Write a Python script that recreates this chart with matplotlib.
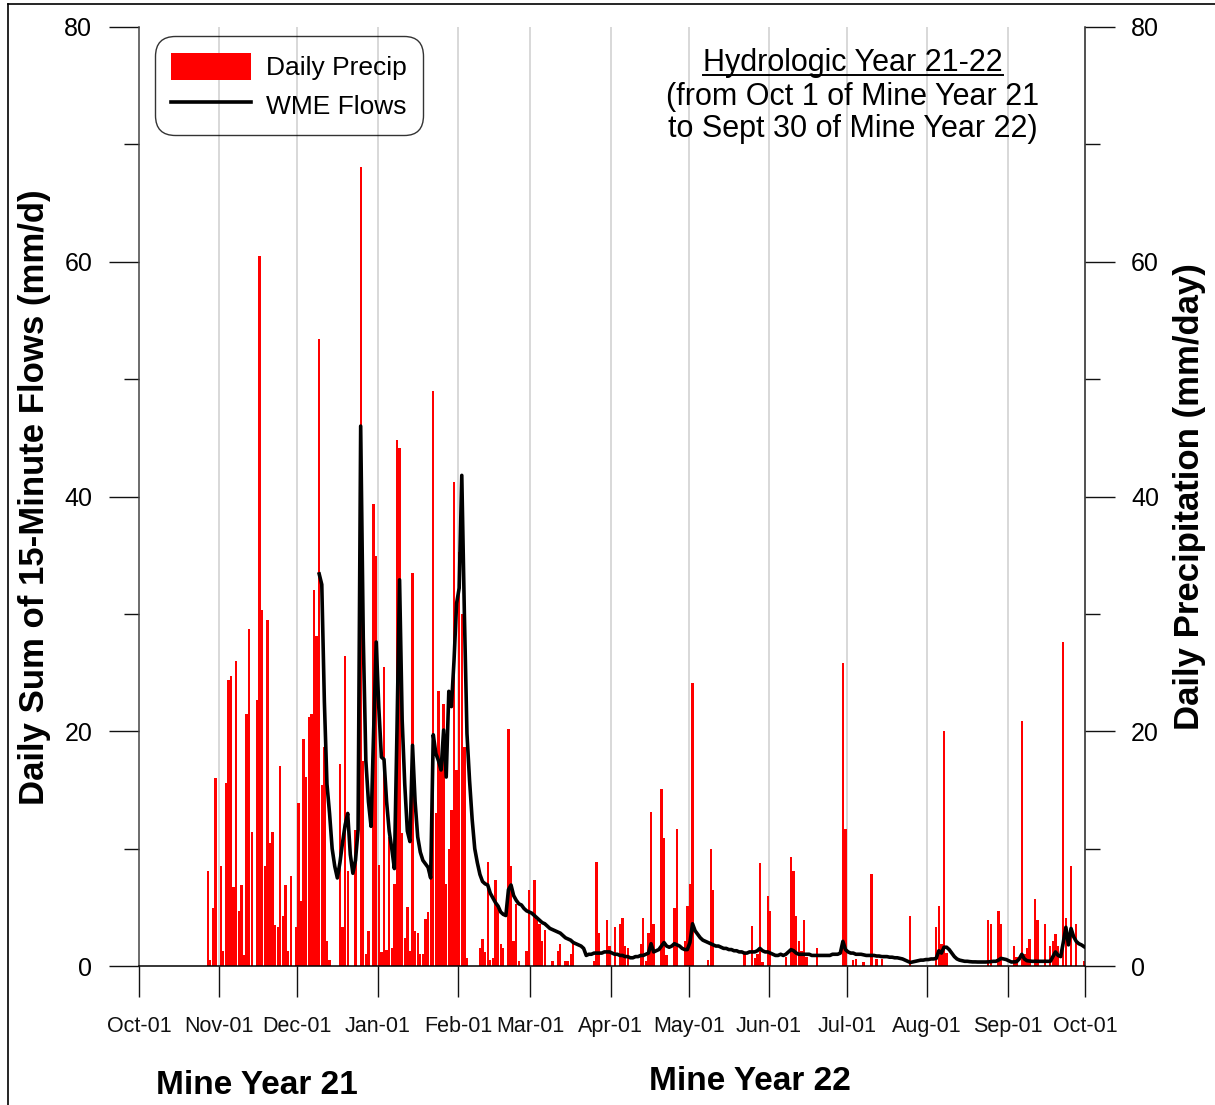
import matplotlib
matplotlib.use('Agg')
import matplotlib.pyplot as plt
from matplotlib.lines import Line2D
from matplotlib.patches import Patch
import numpy as np

plt.rcParams['font.family'] = ['Liberation Sans', 'DejaVu Sans']

# day index counted from Oct 1 of Mine Year 21
month_days = [0, 31, 61, 92, 123, 151, 182, 212, 243, 273, 304, 335, 365]
month_labels = ['Oct-01', 'Nov-01', 'Dec-01', 'Jan-01', 'Feb-01', 'Mar-01', 'Apr-01',
                'May-01', 'Jun-01', 'Jul-01', 'Aug-01', 'Sep-01', 'Oct-01']

# daily precipitation (mm/day), days without rain left out
precip_days = [26, 27, 28, 29, 31, 32, 33, 34, 35, 36, 37, 38, 39, 40, 41, 42, 43, 45, 46, 47,
               48, 49, 50, 51, 52, 53, 54, 55, 56, 57, 58, 60, 61, 62, 63, 64, 65, 66, 67, 68,
               69, 70, 71, 72, 73, 77, 78, 79, 80, 83, 85, 86, 87, 88, 90, 91, 92, 93, 94, 95,
               96, 97, 98, 99, 100, 101, 102, 103, 104, 105, 106, 107, 108, 109, 110, 111, 112, 113, 114, 115,
               116, 117, 118, 119, 120, 121, 122, 123, 124, 125, 126, 131, 132, 133, 134, 135, 136, 137, 138, 139,
               140, 142, 143, 144, 145, 146, 149, 150, 152, 153, 154, 155, 156, 159, 161, 162, 164, 165, 166, 167,
               175, 176, 177, 180, 181, 183, 185, 186, 187, 188, 193, 194, 195, 196, 197, 198, 201, 202, 203, 206,
               207, 210, 211, 212, 213, 219, 220, 221, 233, 236, 237, 238, 239, 240, 242, 243, 249, 251, 252, 253,
               254, 255, 256, 257, 261, 271, 272, 275, 276, 279, 282, 284, 286, 297, 307, 308, 309, 310, 311, 327,
               328, 331, 332, 337, 338, 340, 341, 342, 343, 345, 346, 349, 351, 352, 353, 354, 356, 357, 359, 361,
               364]
precip_mm = [8.1, 0.5, 4.9, 16.0, 8.5, 1.3, 15.6, 24.4, 24.7, 6.7, 26.0, 4.7, 6.9, 0.9, 21.5, 28.7, 11.4, 22.7, 60.5, 30.3,
             8.5, 29.5, 10.5, 11.4, 3.5, 3.3, 17.0, 4.3, 6.9, 1.3, 7.7, 3.3, 13.9, 5.5, 19.3, 16.1, 21.2, 21.5, 32.0, 28.1,
             53.4, 15.4, 18.7, 2.1, 0.5, 17.2, 3.3, 26.4, 8.1, 11.6, 68.1, 17.5, 1.0, 3.0, 39.4, 34.9, 8.6, 1.2, 25.5, 1.4,
             11.0, 1.5, 7.0, 44.8, 44.1, 11.3, 2.4, 5.0, 1.3, 33.5, 3.0, 2.8, 1.0, 1.0, 4.0, 4.6, 9.0, 49.0, 13.0, 23.4,
             17.0, 22.3, 7.0, 10.0, 13.3, 41.2, 16.7, 35.3, 30.0, 18.7, 0.7, 1.5, 2.3, 1.2, 8.9, 0.5, 0.7, 7.3, 4.9, 1.9,
             1.5, 20.2, 8.5, 2.1, 5.3, 0.4, 1.3, 6.5, 7.3, 3.9, 3.6, 2.1, 3.1, 0.4, 1.3, 1.9, 0.4, 0.4, 1.0, 2.1,
             0.4, 8.9, 2.8, 3.9, 1.7, 3.3, 3.6, 4.1, 1.7, 1.5, 1.9, 4.1, 0.4, 2.8, 13.1, 3.6, 15.1, 10.9, 0.9, 4.9,
             11.7, 2.1, 5.1, 7.0, 24.1, 0.5, 10.0, 6.5, 1.2, 3.4, 0.7, 1.0, 8.8, 0.3, 6.0, 4.7, 0.8, 9.3, 8.1, 4.3,
             2.1, 1.3, 3.9, 0.8, 1.5, 25.8, 11.7, 0.5, 0.6, 0.3, 7.8, 0.6, 0.6, 4.3, 3.3, 5.1, 1.9, 20.0, 1.1, 3.9,
             3.6, 4.7, 3.6, 1.7, 0.8, 20.9, 1.0, 1.5, 2.3, 5.7, 3.9, 3.6, 1.7, 2.1, 2.7, 1.7, 27.6, 4.1, 8.5, 3.6,
             0.4]

# daily sum of 15-minute WME flows (mm/d), record starts on day 69
flow_start = 69
flow_mm = [33.4, 32.5, 22.5, 15.5, 13.0, 10.0, 8.5, 7.5, 8.8, 10.5,
           12.0, 13.0, 9.5, 7.9, 9.0, 11.6, 46.0, 28.0, 17.5, 14.0,
           11.9, 20.0, 27.6, 22.0, 17.8, 17.6, 14.0, 11.5, 10.0, 8.3,
           20.0, 32.9, 21.0, 15.5, 11.5, 10.6, 18.8, 14.0, 11.0, 9.7,
           9.0, 8.7, 8.4, 7.5, 19.7, 18.1, 17.5, 16.7, 20.1, 16.1,
           23.4, 22.1, 26.0, 30.9, 32.2, 41.8, 30.0, 19.8, 15.8, 12.5,
           10.0, 8.8, 7.8, 7.2, 7.0, 6.9, 6.2, 5.8, 5.4, 5.1,
           4.6, 4.4, 4.3, 6.5, 6.9, 6.0, 5.6, 5.3, 5.2, 4.9,
           4.7, 4.6, 4.5, 4.3, 4.1, 3.9, 3.7, 3.6, 3.4, 3.2,
           3.1, 3.0, 2.9, 2.8, 2.6, 2.4, 2.3, 2.2, 2.0, 1.9,
           1.8, 1.7, 1.5, 0.9, 1.0, 1.0, 1.1, 1.1, 1.1, 1.1,
           1.2, 1.2, 1.2, 1.1, 1.0, 1.0, 0.9, 0.9, 0.8, 0.8,
           0.7, 0.7, 0.8, 0.8, 0.9, 0.9, 1.0, 1.1, 1.9, 1.2,
           1.3, 1.4, 1.7, 2.0, 1.7, 1.6, 1.7, 1.9, 1.8, 1.7,
           1.5, 1.4, 1.4, 2.0, 3.6, 3.0, 2.7, 2.4, 2.2, 2.1,
           2.0, 1.9, 1.8, 1.7, 1.7, 1.6, 1.5, 1.5, 1.4, 1.4,
           1.3, 1.3, 1.2, 1.2, 1.1, 1.1, 1.2, 1.2, 1.2, 1.3,
           1.5, 1.3, 1.2, 1.2, 1.1, 1.0, 0.9, 0.9, 1.0, 0.9,
           1.0, 1.2, 1.4, 1.3, 1.1, 1.0, 1.0, 1.0, 1.0, 1.0,
           0.9, 0.9, 0.9, 0.9, 0.9, 0.9, 0.9, 0.9, 1.0, 1.0,
           1.0, 1.1, 2.1, 1.4, 1.2, 1.1, 1.1, 1.0, 1.0, 1.0,
           0.95, 0.9, 0.9, 0.9, 0.9, 0.85, 0.85, 0.8, 0.8, 0.8,
           0.75, 0.75, 0.7, 0.7, 0.65, 0.6, 0.5, 0.4, 0.3, 0.35,
           0.4, 0.45, 0.5, 0.5, 0.55, 0.55, 0.6, 0.6, 0.65, 1.3,
           1.1, 1.6, 1.6, 1.4, 1.1, 0.8, 0.6, 0.5, 0.45, 0.4,
           0.4, 0.37, 0.35, 0.35, 0.34, 0.34, 0.34, 0.34, 0.35, 0.37,
           0.4, 0.4, 0.5, 0.65, 0.6, 0.55, 0.45, 0.34, 0.35, 0.37,
           0.6, 1.0, 0.6, 0.45, 0.42, 0.4, 0.4, 0.4, 0.4, 0.4,
           0.4, 0.4, 0.4, 0.8, 1.2, 0.9, 0.8, 2.0, 3.3, 1.8,
           3.2, 2.5, 2.1, 1.9, 1.8, 1.65]

W, H = 1215, 1105
fig = plt.figure(figsize=(W / 100, H / 100), dpi=100)

# left axis: flows, right axis: precipitation (same 0-80 scale)
ax = fig.add_axes([139 / W, 139 / H, 946.3 / W, 939 / H])
ax2 = ax.twinx()
ax.set_zorder(ax2.get_zorder() + 1)
ax.patch.set_visible(False)

for d in month_days[1:-1]:
    ax2.axvline(d, color='#d2d2d2', lw=1.2, zorder=0)

ax2.bar(np.array(precip_days) + 0.5, precip_mm, width=0.9, color='#ff0000',
        linewidth=0, zorder=2)
flow_x = np.arange(flow_start, flow_start + len(flow_mm)) + 0.5
ax.plot(flow_x, flow_mm, color='black', lw=2.6, solid_joinstyle='round')

for a in (ax, ax2):
    a.set_xlim(0, 365)
    a.set_ylim(0, 80)
    a.set_yticks([0, 20, 40, 60, 80])
    a.set_yticks([10, 30, 50, 70], minor=True)
    a.spines['top'].set_visible(False)
    a.tick_params(axis='y', which='major', direction='out', length=21.6,
                  width=1, pad=12, labelsize=18, colors='#111111')
    a.tick_params(axis='y', which='minor', direction='out', length=10.8,
                  width=1, colors='#111111')

ax.spines['right'].set_visible(False)
ax2.spines['left'].set_visible(False)
ax2.spines['bottom'].set_visible(False)
ax.spines['left'].set_color('#444444')
ax2.spines['right'].set_color('#222222')
ax.spines['bottom'].set_color('black')
for s in ('left', 'bottom'):
    ax.spines[s].set_linewidth(1.1)
ax2.spines['right'].set_linewidth(1.1)

ax.set_xticks(month_days)
ax.set_xticklabels(month_labels)
ax.tick_params(axis='x', which='major', direction='out', length=22.3, width=1,
               pad=13.5, labelsize=15.5, colors='#111111')
ax.tick_params(axis='y', labelcolor='black')
ax2.tick_params(axis='y', labelcolor='black', pad=11.3)

handles = [Patch(facecolor='#ff0000', edgecolor='none', label='Daily Precip'),
           Line2D([], [], color='black', lw=2.6, label='WME Flows')]
leg = ax.legend(handles=handles, loc='upper left', bbox_to_anchor=(0.0169, 0.990),
                fontsize=19, handlelength=3.03, handleheight=1.2, handletextpad=0.57,
                labelspacing=0.42, borderpad=0.62, borderaxespad=0, frameon=True,
                fancybox=True)
frame = leg.get_frame()
frame.set_facecolor('none')
frame.set_edgecolor('black')
frame.set_linewidth(1.0)
frame.set_boxstyle('round', pad=0, rounding_size=0.75)

fig.text(35 / W, 1 - 497 / H, 'Daily Sum of 15-Minute Flows (mm/d)', rotation=90,
         ha='center', va='center', fontsize=25, fontweight='bold')
fig.text(1190 / W, 1 - 497 / H, 'Daily Precipitation (mm/day)', rotation=90,
         ha='center', va='center', fontsize=25, fontweight='bold')

fig.text(257 / W, 1 - 1094 / H, 'Mine Year 21', ha='center', va='baseline',
         fontsize=24, fontweight='bold')
fig.text(750 / W, 1 - 1090 / H, 'Mine Year 22', ha='center', va='baseline',
         fontsize=24, fontweight='bold')

title = fig.text(853 / W, 1 - 71 / H, 'Hydrologic Year 21-22', ha='center',
                 va='baseline', fontsize=22)
fig.text(853 / W, 1 - 104.5 / H, '(from Oct 1 of Mine Year 21', ha='center',
         va='baseline', fontsize=22)
fig.text(853 / W, 1 - 137.5 / H, 'to Sept 30 of Mine Year 22)', ha='center',
         va='baseline', fontsize=22)

# underline the first title line
fig.canvas.draw()
bb = title.get_window_extent(fig.canvas.get_renderer())
x0, x1 = bb.x0 / W, bb.x1 / W
uy = 1 - 75 / H
fig.add_artist(Line2D([x0, x1], [uy, uy], transform=fig.transFigure,
                      color='black', lw=1.4))

# page frame on the left and top
fig.add_artist(Line2D([8 / W, 8 / W], [0, 1 - 4 / H], transform=fig.transFigure,
                      color='black', lw=1.2))
fig.add_artist(Line2D([8 / W, 1], [1 - 4 / H, 1 - 4 / H], transform=fig.transFigure,
                      color='black', lw=1.2))

fig.savefig('out.png', dpi=100)
